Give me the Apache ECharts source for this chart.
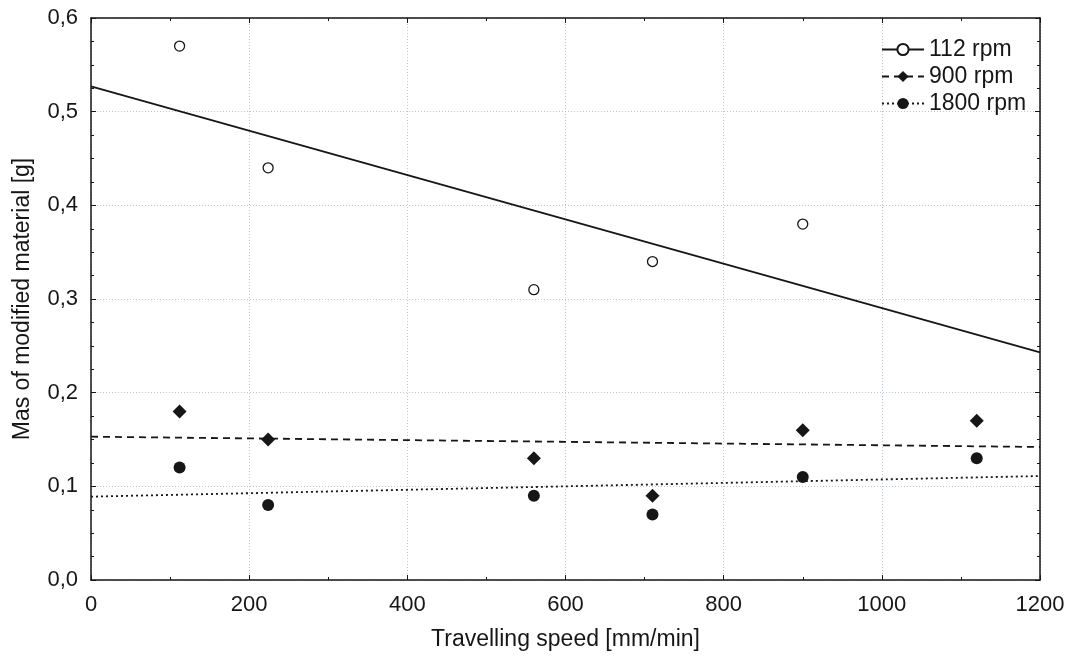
<!DOCTYPE html>
<html>
<head>
<meta charset="utf-8">
<script src="https://cdn.jsdelivr.net/npm/echarts@6/dist/echarts.min.js"></script>
<style>html,body{margin:0;padding:0;background:#fff}#c{width:1071px;height:659px}</style>
</head>
<body>
<div id="c"></div>
<script>
// Data
const speeds = [112, 224, 560, 710, 900, 1120];
const mass112 = [0.57, 0.44, 0.31, 0.34, 0.38, null];
const mass900 = [0.18, 0.15, 0.13, 0.09, 0.16, 0.17];
const mass1800 = [0.12, 0.08, 0.09, 0.07, 0.11, 0.13];
// Fitted trend lines (end points)
const fitX = [0, 1200];
const fit112 = [0.527, 0.243];
const fit900 = [0.153, 0.142];
const fit1800 = [0.089, 0.111];
const seriesNames = ['112 rpm', '900 rpm', '1800 rpm'];

const ink = '#161616';
const font = 'Liberation Sans, Arial, sans-serif';
const pts = (ys) => speeds.map((x, i) => ys[i] == null ? null : [x, ys[i]]).filter(Boolean);
const line = (ys) => fitX.map((x, i) => [x, ys[i]]);

const baseX = {
  type: 'value', min: 0, max: 1200, interval: 200,
  axisLine: { show: true, onZero: false, lineStyle: { color: ink, width: 1.5 } },
  axisTick: { show: true, inside: true, length: 5, lineStyle: { color: ink } },
  minorTick: { show: true, splitNumber: 2, length: 3, lineStyle: { color: ink } },
};
const baseY = {
  type: 'value', min: 0, max: 0.6, interval: 0.1,
  axisLine: { show: true, onZero: false, lineStyle: { color: ink, width: 1.5 } },
  axisTick: { show: true, inside: true, length: 5, lineStyle: { color: ink } },
  minorTick: { show: true, splitNumber: 4, length: 3, lineStyle: { color: ink } },
};
const grid = { show: true, lineStyle: { color: '#bcc6d2', type: [1, 2], width: 1 } };

const option = {
  animation: false,
  backgroundColor: '#fff',
  textStyle: { fontFamily: font },
  grid: { left: 91, right: 31, top: 18, bottom: 79, containLabel: false },
  legend: {
    data: seriesNames,
    orient: 'vertical',
    left: 876, top: 33,
    itemWidth: 42, itemHeight: 14, itemGap: 4,
    textStyle: { fontSize: 23, color: ink, fontFamily: font },
    inactiveColor: '#aaa'
  },
  xAxis: [
    Object.assign({}, baseX, {
      position: 'bottom',
      name: 'Travelling speed [mm/min]', nameLocation: 'middle', nameGap: 48,
      nameTextStyle: { fontSize: 23, color: ink },
      axisLabel: { fontSize: 22, color: ink, margin: 14, formatter: v => String(v) },
      splitLine: grid
    }),
    Object.assign({}, baseX, {
      position: 'top',
      axisLabel: { show: false },
      splitLine: { show: false }
    })
  ],
  yAxis: [
    Object.assign({}, baseY, {
      position: 'left',
      name: 'Mas of modified material [g]', nameLocation: 'middle', nameGap: 57,
      nameTextStyle: { fontSize: 23, color: ink },
      axisLabel: { fontSize: 22, color: ink, margin: 13,
        formatter: v => v.toFixed(1).replace('.', ',') },
      splitLine: grid
    }),
    Object.assign({}, baseY, {
      position: 'right',
      axisLabel: { show: false },
      splitLine: { show: false }
    })
  ],
  series: [
    { name: seriesNames[0], type: 'line', data: line(fit112), showSymbol: false,
      symbol: 'emptyCircle', symbolSize: 10,
      itemStyle: { color: ink, borderColor: ink, borderWidth: 1.2 },
      lineStyle: { color: ink, width: 1.8, type: 'solid' }, z: 2 },
    { name: seriesNames[1], type: 'line', data: line(fit900), showSymbol: false,
      symbol: 'diamond', symbolSize: 13,
      itemStyle: { color: ink },
      lineStyle: { color: ink, width: 1.8, type: [7, 5] }, z: 2 },
    { name: seriesNames[2], type: 'line', data: line(fit1800), showSymbol: false,
      symbol: 'circle', symbolSize: 12,
      itemStyle: { color: ink },
      lineStyle: { color: ink, width: 1.8, type: [2, 3] }, z: 2 },
    { name: '112 rpm pts', type: 'scatter', data: pts(mass112),
      symbol: 'circle', symbolSize: 10,
      itemStyle: { color: '#fff', borderColor: ink, borderWidth: 1.3, opacity: 1 }, z: 3 },
    { name: '900 rpm pts', type: 'scatter', data: pts(mass900),
      symbol: 'diamond', symbolSize: 14,
      itemStyle: { color: ink, opacity: 1 }, z: 3 },
    { name: '1800 rpm pts', type: 'scatter', data: pts(mass1800),
      symbol: 'circle', symbolSize: 12,
      itemStyle: { color: ink, opacity: 1 }, z: 3 }
  ]
};
const chart = echarts.init(document.getElementById('c'), null, { renderer: 'canvas' });
chart.setOption(option);
</script>
</body>
</html>
